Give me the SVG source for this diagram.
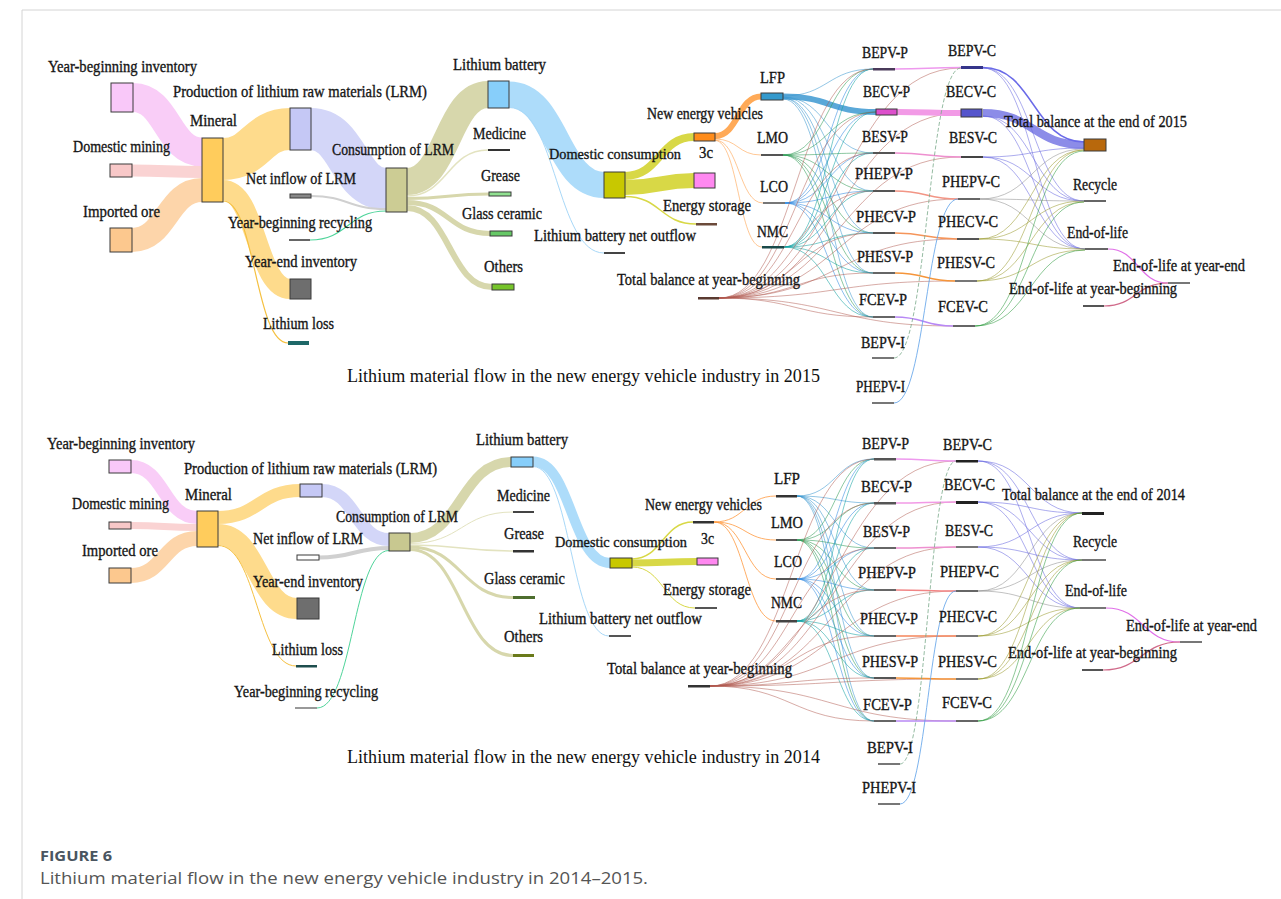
<svg xmlns="http://www.w3.org/2000/svg" width="1281" height="899" viewBox="0 0 1281 899">
<style>
.t{font-family:"Liberation Serif","Times New Roman",serif;font-size:17px;fill:#151515;stroke:#151515;stroke-width:0.35}
.ti{font-family:"Liberation Serif","Times New Roman",serif;font-size:19.5px;fill:#111}
.n{stroke:#3a3a3a;stroke-width:1}
.bar{fill:#666}
.links path{fill:none}
.k{fill:none;stroke-width:1;stroke-opacity:.55}
.lf{stroke:#3a98d0}.lm{stroke:#2f9a55}.lc{stroke:#2f88e0}.nm{stroke:#0ea0a0}
.tb{stroke:#b0584e;stroke-opacity:.5}.or{stroke:#ff9a40}
.cb{stroke:#6868e0}.cg{stroke:#909090}.co{stroke:#9a9a30}.cf{stroke:#2f9a3f}
</style>
<rect x="0" y="0" width="1281" height="899" fill="#fff"/>
<path d="M22,10H1281M22,10V899" stroke="#d4d4d4" stroke-width="1" fill="none"/>

<!-- ================= 2015 ================= -->
<g id="links-2015" class="links">
<path d="M133,97.5C167.5,97.5 167.5,152 202,152" stroke="#f9cdf7" stroke-width="29"/>
<path d="M132,170.5C167,170.5 167,172 202,172" stroke="#fad3d3" stroke-width="12"/>
<path d="M132,240C167,240 167,190 202,190" stroke="#fdd5aa" stroke-width="24"/>
<path d="M223,159C256.5,159 256.5,129 290,129" stroke="#fedb8c" stroke-width="42"/>
<path d="M223,190C256.5,190 256.5,289 290,289" stroke="#fedb8c" stroke-width="20"/>
<path d="M223,201C255,201 255,343 288,343" stroke="#f5c040" stroke-width="1.2"/>
<path d="M311,129C348.5,129 348.5,189 386,189" stroke="#d3d6f8" stroke-width="42"/>
<path d="M311,196C348,196 348,209 386,209" stroke="#d0d0d0" stroke-width="2"/>
<path d="M310,240C348,240 348,211 386,211" stroke="#4fd49a" stroke-width="1.2"/>
<path d="M407,181.5C447.5,181.5 447.5,94.5 488,94.5" stroke="#d7d7ac" stroke-width="27"/>
<path d="M407,196C447.5,196 447.5,150 488,150" stroke="#e3e3c0" stroke-width="1.5"/>
<path d="M407,198.5C448,198.5 448,194 489,194" stroke="#d7d7ac" stroke-width="3"/>
<path d="M407,202.5C448.5,202.5 448.5,233.5 490,233.5" stroke="#d7d7ac" stroke-width="5"/>
<path d="M407,208C449.5,208 449.5,287 492,287" stroke="#d7d7ac" stroke-width="6"/>
<path d="M509,94.5C556.5,94.5 556.5,185 604,185" stroke="#addcfa" stroke-width="26"/>
<path d="M509,107.5C556.5,107.5 556.5,253 604,253" stroke="#a8d8f8" stroke-width="1"/>
<path d="M625,176C659.5,176 659.5,137 694,137" stroke="#d8d846" stroke-width="8"/>
<path d="M625,187.5C659.5,187.5 659.5,180.5 694,180.5" stroke="#d8d846" stroke-width="15"/>
<path d="M625,196.5C660.5,196.5 660.5,224 696,224" stroke="#d8d846" stroke-width="1.5"/>
<path d="M715,136C738,136 738,96.5 761,96.5" stroke="#ffaa58" stroke-width="6"/>
<g class="k or">
<path d="M715,139C738,139 738,155 761,155"/>
<path d="M715,140C739,140 739,203 763,203"/>
<path d="M715,140.5C738.5,140.5 738.5,247 762,247"/>
</g>
<path d="M783,96.5C829.5,96.5 829.5,112 876,112" stroke="#5aa8d8" stroke-width="6"/>
<g class="k lf">
<path d="M783,96C828,96 828,69 873,69"/>
<path d="M783,97C828,97 828,153 873,153"/>
<path d="M783,97C828,97 828,191 873,191"/>
<path d="M783,98C828,98 828,233 873,233"/>
<path d="M783,98C828,98 828,273 873,273"/>
<path d="M783,99C828,99 828,317 873,317"/>
</g>
<g class="k lm">
<path d="M783,155C828,155 828,69 873,69"/>
<path d="M783,155C828,155 828,112 876,112"/>
<path d="M783,155C828,155 828,153 873,153"/>
<path d="M783,155C828,155 828,191 873,191"/>
<path d="M783,155C828,155 828,233 873,233"/>
<path d="M783,155C828,155 828,273 873,273"/>
<path d="M783,155C828,155 828,317 873,317"/>
</g>
<g class="k lc">
<path d="M785,203C829,203 829,69 873,69"/>
<path d="M785,203C829,203 829,112 876,112"/>
<path d="M785,203C829,203 829,153 873,153"/>
<path d="M785,203C829,203 829,191 873,191"/>
<path d="M785,203C829,203 829,233 873,233"/>
<path d="M785,203C829,203 829,273 873,273"/>
<path d="M785,203C829,203 829,317 873,317"/>
</g>
<g class="k nm">
<path d="M784,247C828.5,247 828.5,69 873,69"/>
<path d="M784,247C828.5,247 828.5,112 876,112"/>
<path d="M784,247C828.5,247 828.5,153 873,153"/>
<path d="M784,247C828.5,247 828.5,191 873,191"/>
<path d="M784,247C828.5,247 828.5,233 873,233"/>
<path d="M784,247C828.5,247 828.5,273 873,273"/>
<path d="M784,247C828.5,247 828.5,317 873,317"/>
</g>
<g class="k tb">
<path d="M719,298C796,298 796,69 873,69"/>
<path d="M719,298C796,298 796,112 876,112"/>
<path d="M719,298C796,298 796,153 873,153"/>
<path d="M719,298C796,298 796,191 873,191"/>
<path d="M719,298C796,298 796,233 873,233"/>
<path d="M719,298C796,298 796,273 873,273"/>
<path d="M719,298C796,298 796,317 873,317"/>
<path d="M719,298C840,298 840,68 961,68"/>
<path d="M719,298C840,298 840,113 961,113"/>
<path d="M719,298C840,298 840,157 961,157"/>
<path d="M719,298C838,298 838,199 958,199"/>
<path d="M719,298C838,298 838,239 957,239"/>
<path d="M719,298C837,298 837,281 955,281"/>
<path d="M719,298C836,298 836,326 953,326"/>
</g>
<path d="M895,69C928,69 928,67.5 961,67.5" stroke="#ee99ee" stroke-width="1.5"/>
<path d="M897,112C929,112 929,113 961,113" stroke="#f29ae6" stroke-width="6"/>
<path d="M895,153C928,153 928,157 961,157" stroke="#ee90d0" stroke-width="1.5"/>
<path d="M895,191C926.5,191 926.5,199 958,199" stroke="#f29585" stroke-width="1.5"/>
<path d="M895,233C926,233 926,239 957,239" stroke="#f5955a" stroke-width="1.5"/>
<path d="M895,273C925,273 925,281 955,281" stroke="#f5953a" stroke-width="1.5"/>
<path d="M895,317C924,317 924,326 953,326" stroke="#b888f5" stroke-width="1.5"/>
<path d="M894,358C927.5,358 927.5,68 961,68" stroke="#7aaa8a" stroke-width="0.8" stroke-dasharray="4 2"/>
<path d="M894,403C926,403 926,199 958,199" stroke="#5aa0e8" stroke-width="0.8"/>
<path d="M983,113C1033.5,113 1033.5,145 1084,145" stroke="#8c8ce8" stroke-width="8"/>
<path d="M983,67.5C1033.5,67.5 1033.5,142 1084,142" stroke="#6a6ae8" stroke-width="1.5"/>
<g class="k cb">
<path d="M983,68C1033.5,68 1033.5,201 1084,201"/>
<path d="M983,68C1034,68 1034,249 1085,249"/>
<path d="M983,116C1033.5,116 1033.5,201 1084,201"/>
<path d="M983,116C1034,116 1034,249 1085,249"/>
<path d="M983,157C1033.5,157 1033.5,148 1084,148"/>
<path d="M983,157C1033.5,157 1033.5,201 1084,201"/>
<path d="M983,157C1034,157 1034,249 1085,249"/>
</g>
<g class="k cg">
<path d="M980,199C1032,199 1032,149 1084,149"/>
<path d="M980,199C1032,199 1032,201 1084,201"/>
<path d="M980,199C1032.5,199 1032.5,249 1085,249"/>
</g>
<g class="k co">
<path d="M979,239C1031.5,239 1031.5,150 1084,150"/>
<path d="M979,239C1031.5,239 1031.5,201 1084,201"/>
<path d="M979,239C1032,239 1032,249 1085,249"/>
<path d="M977,281C1030.5,281 1030.5,150 1084,150"/>
<path d="M977,281C1030.5,281 1030.5,202 1084,202"/>
<path d="M977,281C1031,281 1031,250 1085,250"/>
</g>
<g class="k cf">
<path d="M975,326C1029.5,326 1029.5,151 1084,151"/>
<path d="M975,326C1029.5,326 1029.5,202 1084,202"/>
<path d="M975,326C1030,326 1030,250 1085,250"/>
</g>
<path d="M1108,249C1138,249 1138,283 1168,283" stroke="#e070e8" stroke-width="1.2"/>
<path d="M1104,306C1136,306 1136,283 1168,283" stroke="#d06a8a" stroke-width="1.2"/>
</g>

<g id="ybi15"><rect class="n" x="111" y="83" width="22" height="29" fill="#f9c8f9"/><text class="t" x="48" y="72" textLength="149" lengthAdjust="spacingAndGlyphs">Year-beginning inventory</text></g>
<g id="dm15"><rect class="n" x="110" y="164" width="22" height="13" fill="#f8c8c8"/><text class="t" x="73" y="152" textLength="97" lengthAdjust="spacingAndGlyphs">Domestic mining</text></g>
<g id="io15"><rect class="n" x="110" y="228" width="22" height="24" fill="#fcc88e"/><text class="t" x="83" y="217" textLength="77" lengthAdjust="spacingAndGlyphs">Imported ore</text></g>
<g id="min15"><rect class="n" x="202" y="138" width="21" height="64" fill="#ffcc5c"/><text class="t" x="190" y="126" textLength="47" lengthAdjust="spacingAndGlyphs">Mineral</text></g>
<g id="prod15"><rect class="n" x="290" y="108" width="21" height="42" fill="#c5c8f5"/><text class="t" x="173" y="97" textLength="254" lengthAdjust="spacingAndGlyphs">Production of lithium raw materials (LRM)</text></g>
<g id="net15"><rect class="n" x="290" y="194" width="21" height="4" fill="#888"/><text class="t" x="246" y="184" textLength="110" lengthAdjust="spacingAndGlyphs">Net inflow of LRM</text></g>
<g id="ybr15"><rect class="bar" x="289" y="239" width="21" height="2" fill="#999"/><text class="t" x="228" y="228" textLength="144" lengthAdjust="spacingAndGlyphs">Year-beginning recycling</text></g>
<g id="yei15"><rect class="n" x="290" y="279" width="21" height="20" fill="#6e6e6e"/><text class="t" x="245" y="267" textLength="112" lengthAdjust="spacingAndGlyphs">Year-end inventory</text></g>
<g id="loss15"><rect x="288" y="341" width="21" height="4" fill="#1e6868"/><text class="t" x="263" y="329" textLength="71" lengthAdjust="spacingAndGlyphs">Lithium loss</text></g>
<g id="cons15"><rect class="n" x="386" y="168" width="21" height="44" fill="#cccc94"/><text class="t" x="332" y="155" textLength="122" lengthAdjust="spacingAndGlyphs">Consumption of LRM</text></g>
<g id="lb15"><rect class="n" x="488" y="81" width="21" height="27" fill="#87cefa"/><text class="t" x="453" y="70" textLength="93" lengthAdjust="spacingAndGlyphs">Lithium battery</text></g>
<g id="med15"><rect x="488" y="149" width="22" height="2" fill="#333"/><text class="t" x="473" y="139" textLength="53" lengthAdjust="spacingAndGlyphs">Medicine</text></g>
<g id="gre15"><rect class="n" x="489" y="192" width="22" height="4" fill="#90e090"/><text class="t" x="481" y="181" textLength="39" lengthAdjust="spacingAndGlyphs">Grease</text></g>
<g id="gla15"><rect class="n" x="490" y="231" width="22" height="5" fill="#66c866"/><text class="t" x="462" y="219" textLength="80" lengthAdjust="spacingAndGlyphs">Glass ceramic</text></g>
<g id="oth15"><rect class="n" x="492" y="284" width="22" height="6" fill="#76c42a"/><text class="t" x="484" y="272" textLength="39" lengthAdjust="spacingAndGlyphs">Others</text></g>
<g id="dc15"><rect class="n" x="604" y="172" width="21" height="26" fill="#c8c800"/><text class="t" x="549" y="159" style="font-size:15.5px" textLength="132" lengthAdjust="spacingAndGlyphs">Domestic consumption</text></g>
<g id="lbo15"><rect x="604" y="252" width="21" height="2" fill="#444"/><text class="t" x="534" y="241" textLength="162" lengthAdjust="spacingAndGlyphs">Lithium battery net outflow</text></g>
<g id="nev15"><rect class="n" x="694" y="133" width="21" height="8" fill="#ff8c1a"/><text class="t" x="647" y="119" textLength="116" lengthAdjust="spacingAndGlyphs">New energy vehicles</text></g>
<g id="c3-15"><rect class="n" x="694" y="173" width="21" height="15" fill="#ff88f0"/><text class="t" x="699" y="158" textLength="14" lengthAdjust="spacingAndGlyphs">3c</text></g>
<g id="es15"><rect x="696" y="223" width="21" height="2.5" fill="#6b4a3a"/><text class="t" x="663" y="211" textLength="88" lengthAdjust="spacingAndGlyphs">Energy storage</text></g>
<g id="tbyb15"><rect x="698" y="297" width="21" height="2.5" fill="#5a3a30"/><text class="t" x="617" y="285" textLength="183" lengthAdjust="spacingAndGlyphs">Total balance at year-beginning</text></g>
<g id="lfp15"><rect class="n" x="761" y="93" width="22" height="7" fill="#3399cc"/><text class="t" x="760" y="83" textLength="25" lengthAdjust="spacingAndGlyphs">LFP</text></g>
<g id="lmo15"><rect x="761" y="154" width="22" height="2" fill="#555"/><text class="t" x="757" y="143" textLength="31" lengthAdjust="spacingAndGlyphs">LMO</text></g>
<g id="lco15"><rect x="763" y="202" width="22" height="2" fill="#777"/><text class="t" x="760" y="192" textLength="28" lengthAdjust="spacingAndGlyphs">LCO</text></g>
<g id="nmc15"><rect x="762" y="246" width="22" height="2.5" fill="#1a4a4a"/><text class="t" x="757" y="237" textLength="31" lengthAdjust="spacingAndGlyphs">NMC</text></g>
<g id="bepvp15"><rect x="873" y="68" width="22" height="2.5" fill="#4a3a5a"/><text class="t" x="862" y="58" textLength="46" lengthAdjust="spacingAndGlyphs">BEPV-P</text></g>
<g id="becvp15"><rect class="n" x="876" y="109" width="21" height="6" fill="#dd4fcc"/><text class="t" x="863" y="97" textLength="47" lengthAdjust="spacingAndGlyphs">BECV-P</text></g>
<g id="besvp15"><rect x="873" y="152" width="22" height="2" fill="#555"/><text class="t" x="862" y="142" textLength="46" lengthAdjust="spacingAndGlyphs">BESV-P</text></g>
<g id="phepvp15"><rect x="873" y="190" width="22" height="2" fill="#555"/><text class="t" x="855" y="179" textLength="58" lengthAdjust="spacingAndGlyphs">PHEPV-P</text></g>
<g id="phecvp15"><rect x="873" y="232" width="22" height="2" fill="#555"/><text class="t" x="856" y="222" textLength="60" lengthAdjust="spacingAndGlyphs">PHECV-P</text></g>
<g id="phesvp15"><rect x="873" y="272" width="22" height="2" fill="#666"/><text class="t" x="857" y="262" textLength="56" lengthAdjust="spacingAndGlyphs">PHESV-P</text></g>
<g id="fcevp15"><rect x="873" y="316" width="22" height="2" fill="#666"/><text class="t" x="859" y="305" textLength="48" lengthAdjust="spacingAndGlyphs">FCEV-P</text></g>
<g id="bepvi15"><rect x="872" y="357" width="22" height="2" fill="#777"/><text class="t" x="861" y="348" textLength="44" lengthAdjust="spacingAndGlyphs">BEPV-I</text></g>
<g id="phepvi15"><rect x="872" y="402" width="22" height="2" fill="#777"/><text class="t" x="856" y="392" textLength="49" lengthAdjust="spacingAndGlyphs">PHEPV-I</text></g>
<g id="bepvc15"><rect x="961" y="66" width="22" height="3" fill="#35358a"/><text class="t" x="948" y="56" textLength="48" lengthAdjust="spacingAndGlyphs">BEPV-C</text></g>
<g id="becvc15"><rect class="n" x="961" y="109" width="21" height="8" fill="#5555cc"/><text class="t" x="946" y="97" textLength="50" lengthAdjust="spacingAndGlyphs">BECV-C</text></g>
<g id="besvc15"><rect x="961" y="156" width="22" height="2" fill="#444"/><text class="t" x="949" y="143" textLength="48" lengthAdjust="spacingAndGlyphs">BESV-C</text></g>
<g id="phepvc15"><rect x="958" y="198" width="22" height="2" fill="#666"/><text class="t" x="942" y="187" textLength="58" lengthAdjust="spacingAndGlyphs">PHEPV-C</text></g>
<g id="phecvc15"><rect x="957" y="238" width="22" height="2" fill="#555"/><text class="t" x="938" y="227" textLength="60" lengthAdjust="spacingAndGlyphs">PHECV-C</text></g>
<g id="phesvc15"><rect x="955" y="280" width="22" height="2" fill="#777"/><text class="t" x="937" y="268" textLength="58" lengthAdjust="spacingAndGlyphs">PHESV-C</text></g>
<g id="fcevc15"><rect x="953" y="325" width="22" height="2" fill="#666"/><text class="t" x="938" y="312" textLength="50" lengthAdjust="spacingAndGlyphs">FCEV-C</text></g>
<g id="tbe15"><rect class="n" x="1084" y="139" width="22" height="12" fill="#b8680c"/><text class="t" x="1004" y="127" textLength="183" lengthAdjust="spacingAndGlyphs">Total balance at the end of 2015</text></g>
<g id="rec15"><rect x="1084" y="200" width="22" height="2" fill="#666"/><text class="t" x="1073" y="190" textLength="44" lengthAdjust="spacingAndGlyphs">Recycle</text></g>
<g id="eol15"><rect x="1085" y="248" width="23" height="2" fill="#666"/><text class="t" x="1067" y="238" textLength="61" lengthAdjust="spacingAndGlyphs">End-of-life</text></g>
<g id="eolye15"><rect x="1168" y="282" width="22" height="2" fill="#777"/><text class="t" x="1113" y="271" textLength="132" lengthAdjust="spacingAndGlyphs">End-of-life at year-end</text></g>
<g id="eolyb15"><rect x="1083" y="305" width="21" height="2" fill="#555"/><text class="t" x="1009" y="294" textLength="168" lengthAdjust="spacingAndGlyphs">End-of-life at year-beginning</text></g>
<text class="ti" x="347" y="382" textLength="473" lengthAdjust="spacingAndGlyphs">Lithium material flow in the new energy vehicle industry in 2015</text>

<!-- ================= 2014 ================= -->
<g id="links-2014" class="links">
<path d="M131,466.5C164,466.5 164,517.5 197,517.5" stroke="#f9cdf7" stroke-width="13"/>
<path d="M131,525.5C164,525.5 164,527.5 197,527.5" stroke="#fad3d3" stroke-width="7"/>
<path d="M131,575.5C164,575.5 164,538.5 197,538.5" stroke="#fdd5aa" stroke-width="15"/>
<path d="M218,517.5C259,517.5 259,490.5 300,490.5" stroke="#fedb8c" stroke-width="13"/>
<path d="M218,534.5C257.5,534.5 257.5,608.5 297,608.5" stroke="#fedb8c" stroke-width="21"/>
<path d="M218,545.5C257,545.5 257,666 296,666" stroke="#f5c040" stroke-width="1"/>
<path d="M322,490.5C355.5,490.5 355.5,539.5 389,539.5" stroke="#d3d6f8" stroke-width="13"/>
<path d="M319,557.5C354,557.5 354,548 389,548" stroke="#d0d0d0" stroke-width="4"/>
<path d="M317,708C353,708 353,550.5 389,550.5" stroke="#4fd49a" stroke-width="1"/>
<path d="M410,538C460.5,538 460.5,462 511,462" stroke="#d7d7ac" stroke-width="10"/>
<path d="M410,543.5C461.5,543.5 461.5,512 513,512" stroke="#e3e3c0" stroke-width="1"/>
<path d="M410,545C461.5,545 461.5,551 513,551" stroke="#e3e3c0" stroke-width="1.5"/>
<path d="M410,547C461.5,547 461.5,597.5 513,597.5" stroke="#d7d7ac" stroke-width="3"/>
<path d="M410,549.5C461.5,549.5 461.5,655.5 513,655.5" stroke="#d7d7ac" stroke-width="3"/>
<path d="M533,461.5C571.5,461.5 571.5,563 610,563" stroke="#addcfa" stroke-width="10"/>
<path d="M533,466.5C571,466.5 571,636 609,636" stroke="#a8d8f8" stroke-width="1"/>
<path d="M632,559C662.5,559 662.5,522 693,522" stroke="#d8d846" stroke-width="1.5"/>
<path d="M632,563C664.5,563 664.5,561.5 697,561.5" stroke="#d8d846" stroke-width="7"/>
<path d="M632,567C663.5,567 663.5,608 695,608" stroke="#d8d846" stroke-width="1"/>
<g class="k or" style="stroke-opacity:.8">
<path d="M714,522C745,522 745,496 776,496"/>
<path d="M714,522C745,522 745,540 776,540"/>
<path d="M714,522C745,522 745,579 776,579"/>
<path d="M714,522C745,522 745,621 776,621"/>
</g>
<g class="k lf">
<path d="M797,496C835.5,496 835.5,459 874,459"/>
<path d="M797,496C835.5,496 835.5,503 874,503"/>
<path d="M797,496C835.5,496 835.5,548 874,548"/>
<path d="M797,496C835.5,496 835.5,590 874,590"/>
<path d="M797,496C835.5,496 835.5,636 874,636"/>
<path d="M797,496C835.5,496 835.5,678 874,678"/>
<path d="M797,496C835.5,496 835.5,721 874,721"/>
</g>
<g class="k lm">
<path d="M797,540C835.5,540 835.5,459 874,459"/>
<path d="M797,540C835.5,540 835.5,503 874,503"/>
<path d="M797,540C835.5,540 835.5,548 874,548"/>
<path d="M797,540C835.5,540 835.5,590 874,590"/>
<path d="M797,540C835.5,540 835.5,636 874,636"/>
<path d="M797,540C835.5,540 835.5,678 874,678"/>
<path d="M797,540C835.5,540 835.5,721 874,721"/>
</g>
<g class="k lc">
<path d="M797,579C835.5,579 835.5,459 874,459"/>
<path d="M797,579C835.5,579 835.5,503 874,503"/>
<path d="M797,579C835.5,579 835.5,548 874,548"/>
<path d="M797,579C835.5,579 835.5,590 874,590"/>
<path d="M797,579C835.5,579 835.5,636 874,636"/>
<path d="M797,579C835.5,579 835.5,678 874,678"/>
<path d="M797,579C835.5,579 835.5,721 874,721"/>
</g>
<g class="k nm">
<path d="M797,621C835.5,621 835.5,459 874,459"/>
<path d="M797,621C835.5,621 835.5,503 874,503"/>
<path d="M797,621C835.5,621 835.5,548 874,548"/>
<path d="M797,621C835.5,621 835.5,590 874,590"/>
<path d="M797,621C835.5,621 835.5,636 874,636"/>
<path d="M797,621C835.5,621 835.5,678 874,678"/>
<path d="M797,621C835.5,621 835.5,721 874,721"/>
</g>
<g class="k tb">
<path d="M710,686C792,686 792,459 874,459"/>
<path d="M710,686C792,686 792,503 874,503"/>
<path d="M710,686C792,686 792,548 874,548"/>
<path d="M710,686C792,686 792,590 874,590"/>
<path d="M710,686C792,686 792,636 874,636"/>
<path d="M710,686C792,686 792,678 874,678"/>
<path d="M710,686C792,686 792,721 874,721"/>
<path d="M710,686C833,686 833,461 956,461"/>
<path d="M710,686C833,686 833,502 956,502"/>
<path d="M710,686C833,686 833,547 956,547"/>
<path d="M710,686C833,686 833,591 956,591"/>
<path d="M710,686C833,686 833,636 956,636"/>
<path d="M710,686C833,686 833,679 956,679"/>
<path d="M710,686C833,686 833,721 956,721"/>
</g>
<path d="M896,459C926,459 926,461 956,461" stroke="#ee99ee" stroke-width="1.5"/>
<path d="M896,503C926,503 926,502 956,502" stroke="#f29ae6" stroke-width="1.5"/>
<path d="M896,548C926,548 926,547 956,547" stroke="#ee90d0" stroke-width="1.5"/>
<path d="M896,590C926,590 926,591 956,591" stroke="#f28585" stroke-width="1.5"/>
<path d="M896,636C926,636 926,636 956,636" stroke="#f5855a" stroke-width="1.5"/>
<path d="M896,678C926,678 926,679 956,679" stroke="#f5953a" stroke-width="1.5"/>
<path d="M896,721C926,721 926,721 956,721" stroke="#b888f5" stroke-width="1.5"/>
<path d="M900,764C928,764 928,461 956,461" stroke="#7aaa8a" stroke-width="0.8" stroke-dasharray="4 2"/>
<path d="M900,804C928,804 928,591 956,591" stroke="#5aa0e8" stroke-width="0.8"/>
<g class="k cb">
<path d="M978,461C1030,461 1030,513 1082,513"/>
<path d="M978,461C1030,461 1030,560 1082,560"/>
<path d="M978,461C1029,461 1029,608 1080,608"/>
<path d="M978,502C1030,502 1030,513 1082,513"/>
<path d="M978,502C1030,502 1030,560 1082,560"/>
<path d="M978,502C1029,502 1029,608 1080,608"/>
<path d="M978,547C1030,547 1030,513 1082,513"/>
<path d="M978,547C1030,547 1030,560 1082,560"/>
<path d="M978,547C1029,547 1029,608 1080,608"/>
</g>
<g class="k cg">
<path d="M978,591C1030,591 1030,513 1082,513"/>
<path d="M978,591C1030,591 1030,560 1082,560"/>
<path d="M978,591C1029,591 1029,608 1080,608"/>
</g>
<g class="k co">
<path d="M978,636C1030,636 1030,513 1082,513"/>
<path d="M978,636C1030,636 1030,560 1082,560"/>
<path d="M978,636C1029,636 1029,608 1080,608"/>
<path d="M978,679C1030,679 1030,513 1082,513"/>
<path d="M978,679C1030,679 1030,560 1082,560"/>
<path d="M978,679C1029,679 1029,608 1080,608"/>
</g>
<g class="k cf">
<path d="M978,721C1030,721 1030,513 1082,513"/>
<path d="M978,721C1030,721 1030,560 1082,560"/>
<path d="M978,721C1029,721 1029,608 1080,608"/>
</g>
<path d="M1106,608C1143,608 1143,642 1180,642" stroke="#e070e8" stroke-width="1.2"/>
<path d="M1103,670C1141.5,670 1141.5,642 1180,642" stroke="#d06a8a" stroke-width="1.2"/>
</g>

<g id="ybi14"><rect class="n" x="109" y="460" width="22" height="13" fill="#f9c8f9"/><text class="t" x="47" y="449" textLength="148" lengthAdjust="spacingAndGlyphs">Year-beginning inventory</text></g>
<g id="dm14"><rect class="n" x="109" y="522" width="22" height="7" fill="#f8c8c8"/><text class="t" x="72" y="509" textLength="97" lengthAdjust="spacingAndGlyphs">Domestic mining</text></g>
<g id="io14"><rect class="n" x="109" y="568" width="22" height="15" fill="#fcc88e"/><text class="t" x="82" y="556" textLength="76" lengthAdjust="spacingAndGlyphs">Imported ore</text></g>
<g id="min14"><rect class="n" x="197" y="511" width="21" height="36" fill="#ffcc5c"/><text class="t" x="185" y="500" textLength="47" lengthAdjust="spacingAndGlyphs">Mineral</text></g>
<g id="prod14"><rect class="n" x="300" y="484" width="22" height="13" fill="#c5c8f5"/><text class="t" x="184" y="474" textLength="253" lengthAdjust="spacingAndGlyphs">Production of lithium raw materials (LRM)</text></g>
<g id="net14"><rect class="n" x="297" y="555" width="22" height="5" fill="#fff"/><text class="t" x="253" y="544" textLength="110" lengthAdjust="spacingAndGlyphs">Net inflow of LRM</text></g>
<g id="yei14"><rect class="n" x="297" y="598" width="22" height="21" fill="#6e6e6e"/><text class="t" x="253" y="587" textLength="110" lengthAdjust="spacingAndGlyphs">Year-end inventory</text></g>
<g id="loss14"><rect x="296" y="665" width="21" height="2.5" fill="#1e4e4e"/><text class="t" x="272" y="655" textLength="71" lengthAdjust="spacingAndGlyphs">Lithium loss</text></g>
<g id="ybr14"><rect x="295" y="707" width="22" height="2" fill="#999"/><text class="t" x="234" y="697" textLength="144" lengthAdjust="spacingAndGlyphs">Year-beginning recycling</text></g>
<g id="cons14"><rect class="n" x="389" y="533" width="21" height="18" fill="#c8c890"/><text class="t" x="336" y="522" textLength="122" lengthAdjust="spacingAndGlyphs">Consumption of LRM</text></g>
<g id="lb14"><rect class="n" x="511" y="457" width="22" height="10" fill="#87cefa"/><text class="t" x="476" y="445" textLength="92" lengthAdjust="spacingAndGlyphs">Lithium battery</text></g>
<g id="med14"><rect x="513" y="511" width="21" height="2" fill="#444"/><text class="t" x="497" y="501" textLength="53" lengthAdjust="spacingAndGlyphs">Medicine</text></g>
<g id="gre14"><rect x="513" y="550" width="21" height="2.5" fill="#333"/><text class="t" x="504" y="539" textLength="40" lengthAdjust="spacingAndGlyphs">Grease</text></g>
<g id="gla14"><rect x="513" y="596" width="22" height="3" fill="#4e6e2e"/><text class="t" x="484" y="584" textLength="81" lengthAdjust="spacingAndGlyphs">Glass ceramic</text></g>
<g id="oth14"><rect x="513" y="654" width="21" height="3" fill="#6a7a1a"/><text class="t" x="504" y="642" textLength="39" lengthAdjust="spacingAndGlyphs">Others</text></g>
<g id="dc14"><rect class="n" x="610" y="558" width="22" height="10" fill="#c8c800"/><text class="t" x="555" y="547" style="font-size:15.3px" textLength="132" lengthAdjust="spacingAndGlyphs">Domestic consumption</text></g>
<g id="lbo14"><rect x="609" y="635" width="22" height="2" fill="#555"/><text class="t" x="539" y="624" textLength="163" lengthAdjust="spacingAndGlyphs">Lithium battery net outflow</text></g>
<g id="nev14"><rect x="693" y="521" width="21" height="2.5" fill="#333"/><text class="t" x="645" y="510" textLength="117" lengthAdjust="spacingAndGlyphs">New energy vehicles</text></g>
<g id="c3-14"><rect class="n" x="697" y="558" width="21" height="7" fill="#ff88f0"/><text class="t" x="701" y="544" textLength="13" lengthAdjust="spacingAndGlyphs">3c</text></g>
<g id="es14"><rect x="695" y="607" width="22" height="2" fill="#555"/><text class="t" x="663" y="595" textLength="88" lengthAdjust="spacingAndGlyphs">Energy storage</text></g>
<g id="tbyb14"><rect x="688" y="685" width="22" height="2.5" fill="#333"/><text class="t" x="607" y="674" textLength="185" lengthAdjust="spacingAndGlyphs">Total balance at year-beginning</text></g>
<g id="lfp14"><rect x="776" y="495" width="21" height="2.5" fill="#333"/><text class="t" x="774" y="484" textLength="26" lengthAdjust="spacingAndGlyphs">LFP</text></g>
<g id="lmo14"><rect x="776" y="539" width="21" height="2" fill="#555"/><text class="t" x="771" y="528" textLength="32" lengthAdjust="spacingAndGlyphs">LMO</text></g>
<g id="lco14"><rect x="776" y="578" width="21" height="2" fill="#555"/><text class="t" x="774" y="567" textLength="28" lengthAdjust="spacingAndGlyphs">LCO</text></g>
<g id="nmc14"><rect x="776" y="620" width="21" height="2.5" fill="#444"/><text class="t" x="771" y="608" textLength="31" lengthAdjust="spacingAndGlyphs">NMC</text></g>
<g id="bepvp14"><rect x="874" y="458" width="22" height="2.5" fill="#555"/><text class="t" x="862" y="449" textLength="47" lengthAdjust="spacingAndGlyphs">BEPV-P</text></g>
<g id="becvp14"><rect x="874" y="502" width="22" height="2.5" fill="#555"/><text class="t" x="861" y="492" textLength="51" lengthAdjust="spacingAndGlyphs">BECV-P</text></g>
<g id="besvp14"><rect x="874" y="547" width="22" height="2" fill="#666"/><text class="t" x="863" y="537" textLength="47" lengthAdjust="spacingAndGlyphs">BESV-P</text></g>
<g id="phepvp14"><rect x="874" y="589" width="22" height="2" fill="#666"/><text class="t" x="858" y="578" textLength="58" lengthAdjust="spacingAndGlyphs">PHEPV-P</text></g>
<g id="phecvp14"><rect x="874" y="635" width="22" height="2" fill="#666"/><text class="t" x="860" y="624" textLength="58" lengthAdjust="spacingAndGlyphs">PHECV-P</text></g>
<g id="phesvp14"><rect x="874" y="677" width="22" height="2" fill="#555"/><text class="t" x="862" y="667" textLength="56" lengthAdjust="spacingAndGlyphs">PHESV-P</text></g>
<g id="fcevp14"><rect x="874" y="720" width="22" height="2" fill="#666"/><text class="t" x="863" y="710" textLength="49" lengthAdjust="spacingAndGlyphs">FCEV-P</text></g>
<g id="bepvi14"><rect x="878" y="763" width="22" height="2" fill="#777"/><text class="t" x="867" y="753" textLength="46" lengthAdjust="spacingAndGlyphs">BEPV-I</text></g>
<g id="phepvi14"><rect x="878" y="803" width="22" height="2" fill="#777"/><text class="t" x="862" y="793" textLength="54" lengthAdjust="spacingAndGlyphs">PHEPV-I</text></g>
<g id="bepvc14"><rect x="956" y="460" width="22" height="2.5" fill="#222"/><text class="t" x="943" y="450" textLength="49" lengthAdjust="spacingAndGlyphs">BEPV-C</text></g>
<g id="becvc14"><rect x="956" y="501" width="22" height="3" fill="#222"/><text class="t" x="944" y="490" textLength="51" lengthAdjust="spacingAndGlyphs">BECV-C</text></g>
<g id="besvc14"><rect x="956" y="546" width="22" height="2" fill="#777"/><text class="t" x="945" y="536" textLength="48" lengthAdjust="spacingAndGlyphs">BESV-C</text></g>
<g id="phepvc14"><rect x="956" y="590" width="22" height="2" fill="#666"/><text class="t" x="940" y="577" textLength="59" lengthAdjust="spacingAndGlyphs">PHEPV-C</text></g>
<g id="phecvc14"><rect x="956" y="635" width="22" height="2" fill="#777"/><text class="t" x="939" y="622" textLength="58" lengthAdjust="spacingAndGlyphs">PHECV-C</text></g>
<g id="phesvc14"><rect x="956" y="678" width="22" height="2" fill="#777"/><text class="t" x="938" y="667" textLength="59" lengthAdjust="spacingAndGlyphs">PHESV-C</text></g>
<g id="fcevc14"><rect x="956" y="720" width="22" height="2" fill="#666"/><text class="t" x="942" y="708" textLength="50" lengthAdjust="spacingAndGlyphs">FCEV-C</text></g>
<g id="tbe14"><rect x="1082" y="512" width="22" height="3" fill="#222"/><text class="t" x="1002" y="500" textLength="183" lengthAdjust="spacingAndGlyphs">Total balance at the end of 2014</text></g>
<g id="rec14"><rect x="1082" y="559" width="24" height="2" fill="#777"/><text class="t" x="1073" y="547" textLength="44" lengthAdjust="spacingAndGlyphs">Recycle</text></g>
<g id="eol14"><rect x="1080" y="607" width="26" height="2" fill="#777"/><text class="t" x="1065" y="596" textLength="62" lengthAdjust="spacingAndGlyphs">End-of-life</text></g>
<g id="eolye14"><rect x="1180" y="641" width="22" height="2" fill="#777"/><text class="t" x="1126" y="631" textLength="131" lengthAdjust="spacingAndGlyphs">End-of-life at year-end</text></g>
<g id="eolyb14"><rect x="1082" y="669" width="21" height="2" fill="#555"/><text class="t" x="1008" y="658" textLength="169" lengthAdjust="spacingAndGlyphs">End-of-life at year-beginning</text></g>
<text class="ti" x="347" y="763" textLength="473" lengthAdjust="spacingAndGlyphs">Lithium material flow in the new energy vehicle industry in 2014</text>

<g id="caption">
<text x="40" y="861" font-family="'Open Sans','Noto Sans',sans-serif" font-size="15" font-weight="bold" fill="#4a5560" textLength="72" lengthAdjust="spacingAndGlyphs">FIGURE 6</text>
<text x="40" y="884" font-family="'Open Sans','Noto Sans',sans-serif" font-size="16" fill="#555" textLength="608" lengthAdjust="spacingAndGlyphs">Lithium material flow in the new energy vehicle industry in 2014–2015.</text>
</g>
</svg>
